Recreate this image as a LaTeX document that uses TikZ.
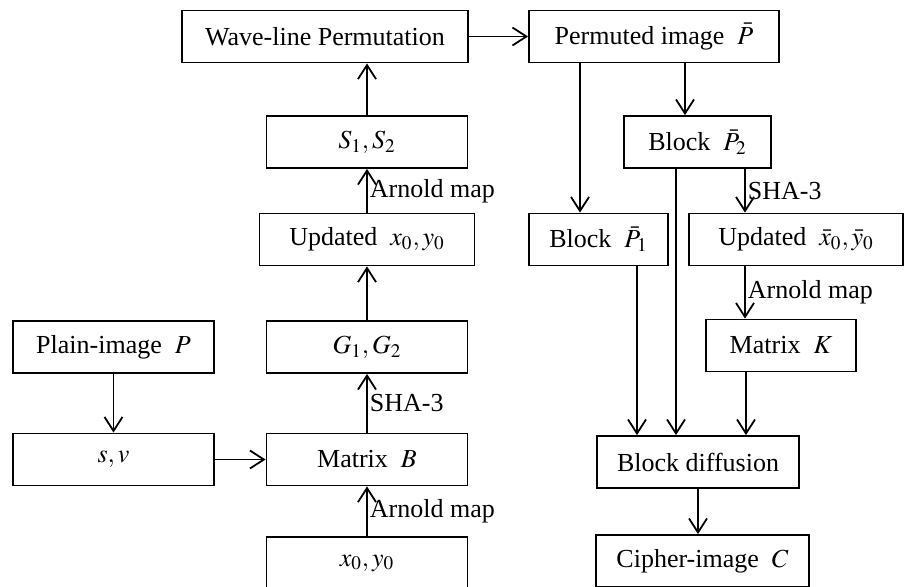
\documentclass[tikz,border=0pt]{standalone}
\usepackage{amsmath}
\usepackage{mathptmx}
\usepackage[no-math]{fontspec}
\setmainfont{Liberation Serif}
\usetikzlibrary{arrows.meta}

\begin{document}
\begin{tikzpicture}[x=0.5pt,y=-0.5pt,line width=0.9pt,
    >={Straight Barb[length=7pt,width=9pt]},
    font=\fontsize{13}{15}\selectfont,
    box/.style={draw,minimum height=26pt,inner sep=0pt}]
      \useasboundingbox (0,0) rectangle (904,586);

      \node[box,minimum width=143pt] (1) at (325,36.5) {Wave-line Permutation};
      \node[box,minimum width=125pt] (2) at (654,36.5) {Permuted image\ \ $\bar{P}$};
      \node[box,minimum width=100.5pt] (3) at (367,142) {$S_1,S_2$};
      \node[box,minimum width=107.5pt] (4) at (367,239.5) {Updated\ \ $x_0,y_0$};
      \node[box,minimum width=100.5pt] (5) at (367,347) {$G_1,G_2$};
      \node[box,minimum width=100.5pt] (6) at (367,459.5) {Matrix\ \ $B$};
      \node[box,minimum width=100.5pt] (7) at (367,563) {$x_0,y_0$};
      \node[box,minimum width=100.5pt] (8) at (113.5,347) {Plain-image\ \ $P$};
      \node[box,minimum width=100.5pt] (9) at (113.5,459.5) {$s,v$};
      \node[box,minimum width=73.5pt] (10) at (697.5,142) {Block\ \ $\bar{P}_2$};
      \node[box,minimum width=69.5pt] (11) at (598.5,239.5) {Block\ \ $\bar{P}_1$};
      \node[box,minimum width=107pt] (12) at (796,239.5) {Updated\ \ $\bar{x}_0,\bar{y}_0$};
      \node[box,minimum width=75pt] (13) at (781,345.5) {Matrix\ \ $K$};
      \node[box,minimum width=101pt] (14) at (698,462) {Block diffusion};
      \node[box,minimum width=106.5pt] (15) at (702.5,561) {Cipher-image\ \ $C$};

      \coordinate (a) at ([xshift=-6.25pt]10.north);
      \coordinate (b) at ([xshift=-9.25pt]11.north);
      \coordinate (c) at ([xshift=-11pt]14.north);
      \coordinate (d) at ([xshift=-25.5pt]12.north);
      \coordinate (e) at ([xshift=-18pt]13.north);
      \coordinate (f) at ([xshift=-30.5pt]14.north);
      \coordinate (g) at ([xshift=24pt]14.north);

      \draw[->] (1) -- (2);
      \draw[->] (3) -- (3 |- 1.south);
      \draw[->] (4) -- node[right,inner sep=1pt] {Arnold map} (3);
      \draw[->] (5) -- (4);
      \draw[->] (6) -- node[right,inner sep=1pt] {SHA-3} (5);
      \draw[->] (7) -- node[right,inner sep=1pt] {Arnold map} (6);
      \draw[->] (8) -- (9);
      \draw[->] (9) -- (6);
      \draw[->] (a |- 2.south) -- (a);
      \draw[->] (b |- 2.south) -- (b);
      \draw[->] (c |- 10.south) -- (c);
      \draw[->] (d |- 10.south) -- node[right,inner sep=1pt] {SHA-3} (d);
      \draw[->] (e |- 12.south) -- node[right,inner sep=1pt] {Arnold map} (e);
      \draw[->] (f |- 11.south) -- (f);
      \draw[->] (g |- 13.south) -- (g);
      \draw[->] (14) -- (14 |- 15.north);
    \end{tikzpicture}
\end{document}
